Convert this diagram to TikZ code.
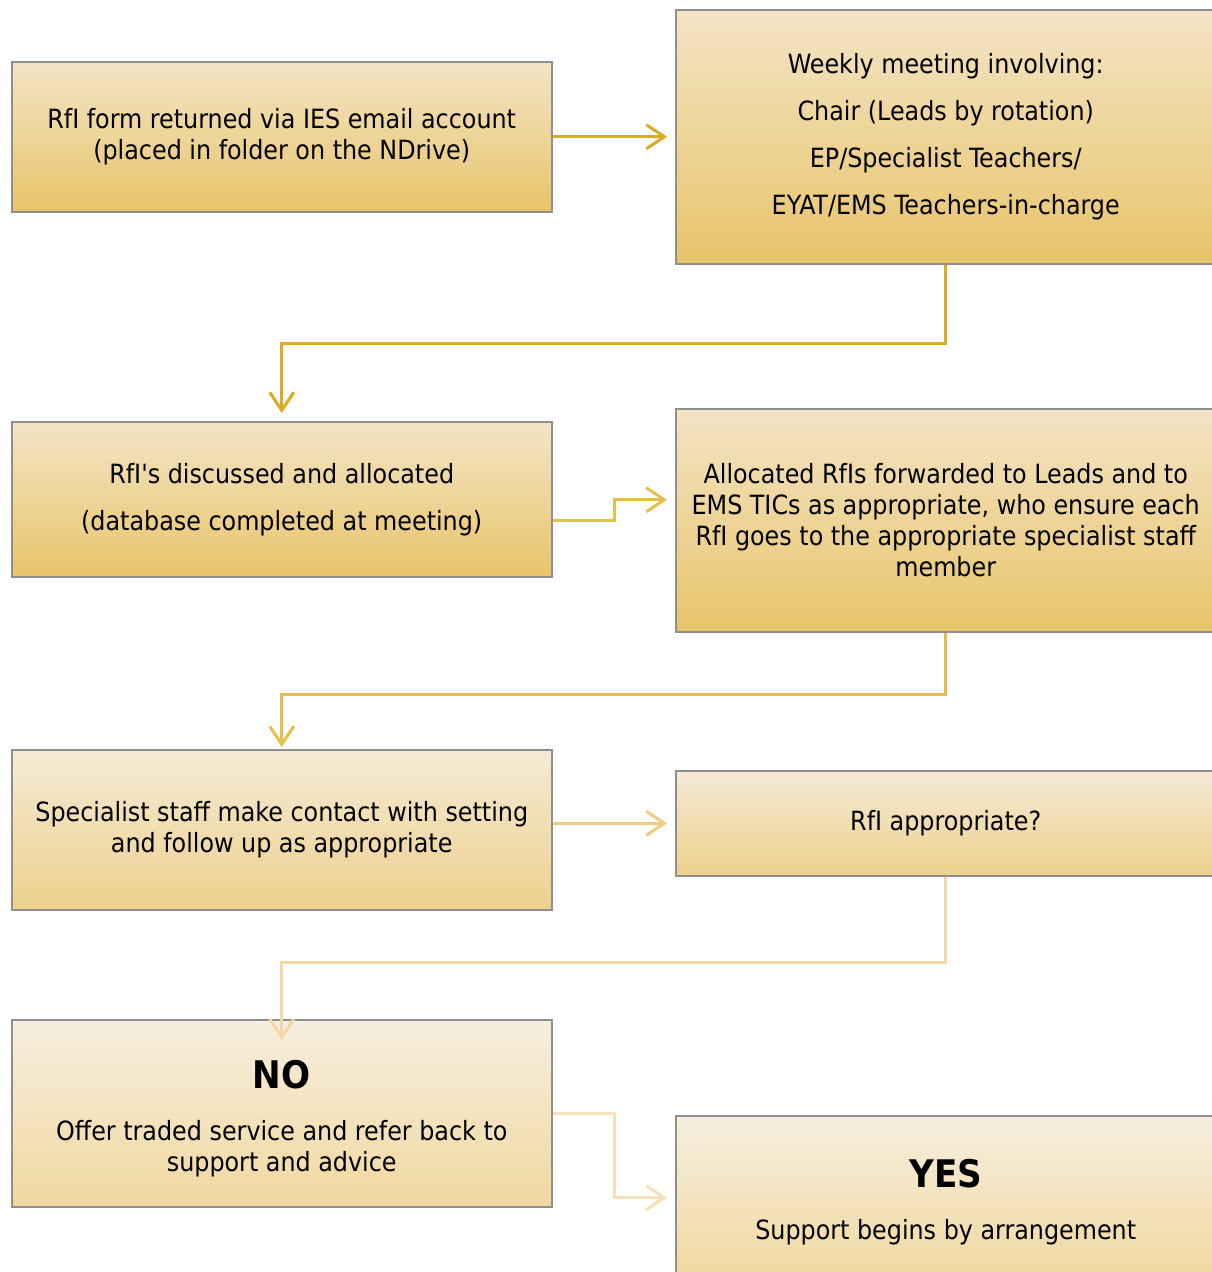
\documentclass[tikz,border=0pt]{standalone}
\usepackage{fontspec}
\setmainfont{DejaVu Sans Condensed}
\usetikzlibrary{arrows.meta,positioning}
\definecolor{boxline}{HTML}{8F8F8F}
\definecolor{topA}{HTML}{F3E4C6}
\definecolor{botA}{HTML}{E8C46A}
\definecolor{topB}{HTML}{F5EAD6}
\definecolor{botB}{HTML}{EDD08C}
\definecolor{topC}{HTML}{F6EEDF}
\definecolor{botC}{HTML}{F0D89F}
\definecolor{arA}{HTML}{DBAB26}
\definecolor{arB}{HTML}{E6BE4E}
\definecolor{arC}{HTML}{ECCC80}
\definecolor{arD}{HTML}{F1D8A6}
\definecolor{arE}{HTML}{F4E1BA}
\tikzset{
  flowbox/.style={draw=boxline, line width=1.5pt, rectangle, anchor=north west,
    minimum width=540pt, align=center, inner sep=0pt,
    font=\fontsize{26.5}{31}\selectfont},
  shadeA/.style={top color=topA, bottom color=botA},
  shadeB/.style={top color=topB, bottom color=botB},
  shadeC/.style={top color=topC, bottom color=botC},
  conn/.style={line width=3pt, -{Straight Barb[length=18pt,width=24pt,line width=3pt]}},
}
\begin{document}
\begin{tikzpicture}[x=1pt,y=-1pt]
\useasboundingbox (0,0) rectangle (1212,1272);
\clip (0,0) rectangle (1212,1272);
\node[flowbox, shadeA, minimum height=150pt] (b1) at (11,61)
  {RfI form returned via IES email account\\(placed in folder on the NDrive)};
\node[flowbox, shadeA, minimum height=254pt] (b2) at (675,9)
  {Weekly meeting involving:\\[16pt]Chair (Leads by rotation)\\[16pt]EP/Specialist Teachers/\\[16pt]EYAT/EMS Teachers-in-charge};
\node[flowbox, shadeA, minimum height=155pt] (b3) at (11,421)
  {RfI\textquotesingle s discussed and allocated\\[16pt](database completed at meeting)};
\node[flowbox, shadeA, minimum height=223pt] (b4) at (675,408)
  {Allocated RfIs forwarded to Leads and to\\EMS TICs as appropriate, who ensure each\\RfI goes to the appropriate specialist staff\\member};
\node[flowbox, shadeB, minimum height=160pt] (b5) at (11,749)
  {Specialist staff make contact with setting\\and follow up as appropriate};
\node[flowbox, shadeB, minimum height=105pt] (b6) at (675,770)
  {RfI appropriate?};
\node[flowbox, shadeC, minimum height=187pt] (b7) at (11,1019)
  {\rule{0pt}{38pt}{\fontsize{38}{44}\selectfont\bfseries NO}\\[21pt]Offer traded service and refer back to\\support and advice};
\node[flowbox, shadeC, minimum height=164pt] (b8) at (675,1115)
  {\rule{0pt}{37pt}{\fontsize{38}{44}\selectfont\bfseries YES}\\[21pt]Support begins by arrangement};
\draw[conn, arA, shorten >=8pt] (b1.east) -- (b2.west);
\draw[conn, arA, shorten >=8pt] (b2.south) -- ++(0,79) -| (b3.north);
\draw[conn, arB, shorten >=8pt] ([yshift=-21.5pt]b3.east) -- ++(62,0) |- ([yshift=20.5pt]b4.west);
\draw[conn, arB, shorten >=2pt] (b4.south) -- ++(0,62) -| (b5.north);
\draw[conn, arC, shorten >=8pt] (b5.east |- b6.west) -- (b6.west);
\draw[conn, arD, shorten >=-21pt] (b6.south) -- ++(0,86) -| (b7.north);
\draw[conn, arE, shorten >=8pt] (b7.east) -- ++(62,0) |- (b8.west);
\end{tikzpicture}
\end{document}
